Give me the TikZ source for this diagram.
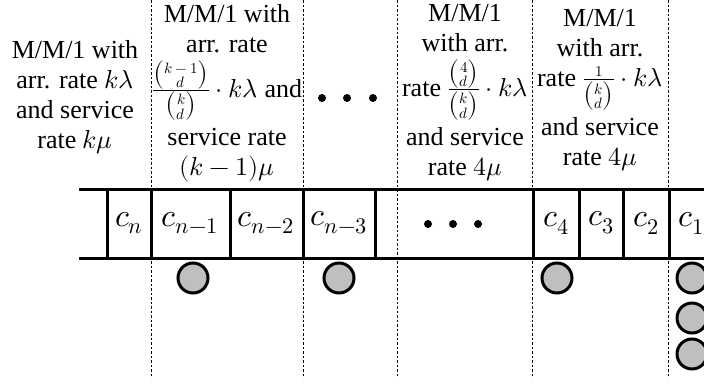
\documentclass[tikz,border=0pt]{standalone}
\usepackage{amsmath}
\usepackage{fontspec}
\usepackage{unicode-math}
\setmainfont{Liberation Serif}
\setmathfont{Latin Modern Math}
\newcommand\myhdrfont{\fontsize{26}{30}\selectfont\lineskiplimit=5pt\relax\lineskip=8pt\relax}
\newcommand\smv[1]{\mbox{\fontsize{15}{15}\selectfont$#1$}}
\newcommand\mybin[2]{\binom{\smv{#1}}{\smv{#2}}}
\begin{document}
\begin{tikzpicture}[x=1pt,y=-1pt,
  hdr/.style={align=center,inner sep=0pt,anchor=north,font=\myhdrfont},
  cell/.style={inner sep=0pt,font=\fontsize{32}{34}\selectfont},
  qline/.style={line width=3pt},
  sep/.style={line width=0.7pt,dash pattern=on 2.5pt off 2pt},
  job/.style={circle,draw,line width=3pt,fill=black!25,minimum size=30pt,inner sep=0pt},
  dot/.style={circle,fill=black,minimum size=8pt,inner sep=0pt}]
\useasboundingbox (0,0) rectangle (704,383);
% dashed separators
\foreach \x/\n in {151/a,303/b,397/c,532/d,668/e}{
  \coordinate (t\n) at (\x,0);
  \coordinate (b\n) at (\x,378);
  \draw[sep] (t\n) -- (b\n);
}
% queue
\coordinate (ql) at (79,189);
\coordinate (qr) at (706,189);
\coordinate (ql2) at (79,258);
\coordinate (qr2) at (706,258);
\draw[qline] (ql) -- (qr);
\draw[qline] (ql2) -- (qr2);
\foreach \x/\n in {107/1,151/2,230/3,303/4,375/5,533/6,579/7,623/8,669/9}{
  \coordinate (vt\n) at (\x,189);
  \coordinate (vb\n) at (\x,258);
  \draw[qline] (vt\n) -- (vb\n);
}
% cell labels
\node[cell] (cn) at (129,223) {$c_n$};
\node[cell] (cn1) at (190,223) {$c_{n-1}$};
\node[cell] (cn2) at (266,223) {$c_{n-2}$};
\node[cell] (cn3) at (339,223) {$c_{n-3}$};
\node[dot] (qd1) at (428,224) {};
\node[dot] (qd2) at (453,224) {};
\node[dot] (qd3) at (478,224) {};
\node[cell] (c4) at (556,223) {$c_4$};
\node[cell] (c3) at (601,223) {$c_3$};
\node[cell] (c2) at (646,223) {$c_2$};
\node[cell] (c1) at (691,223) {$c_1$};
% jobs
\node[job] (j1) at (193,278) {};
\node[job] (j2) at (339,278) {};
\node[job] (j3) at (557,278) {};
\node[job] (j4) at (692,278) {};
\node[job] (j5) at (692,318) {};
\node[job] (j6) at (692,354) {};
% headers
\node[hdr] (h1) at (75,40) {M/M/1 with\\arr. rate $k\lambda$\\and service\\rate $k\mu$};
\node[hdr] (h2) at (227,4) {M/M/1 with\\arr. rate\\$\frac{\mybin{k-1}{d}}{\mybin{k}{d}}\cdot k\lambda$ and\\service rate\\$(k-1)\mu$};
\node[hdr] (h3) at (465,4) {M/M/1\\with arr.\\rate $\frac{\mybin{4}{d}}{\mybin{k}{d}}\cdot k\lambda$\\and service\\rate $4\mu$};
\node[hdr] (h4) at (600,9) {M/M/1\\with arr.\\rate $\frac{\smv{1}}{\mybin{k}{d}}\cdot k\lambda$\\and service\\rate $4\mu$};
\node[dot] (hd1) at (322,98) {};
\node[dot] (hd2) at (347,98) {};
\node[dot] (hd3) at (373,98) {};
\end{tikzpicture}
\end{document}
